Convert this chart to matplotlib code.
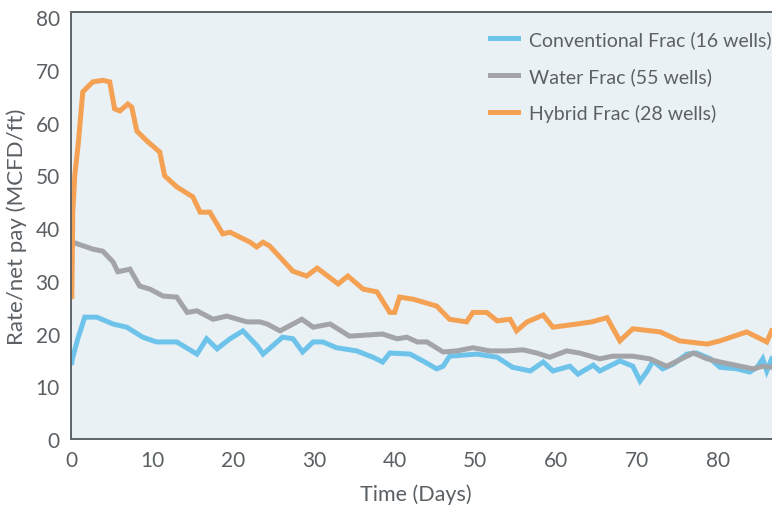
import matplotlib
matplotlib.use("Agg")
import matplotlib.pyplot as plt

# Hybrid Frac (28 wells)
hybrid_days = [0, 0.12, 0.37, 0.8, 1.36, 2.0, 2.6, 3.84, 4.7, 5.3, 5.95, 6.94, 7.43, 8.05, 9.3,
               10.9, 11.5, 13.0, 15.0, 15.9, 17.1, 18.7, 19.6, 22.1, 22.9, 23.7, 24.5, 27.4,
               29.1, 30.4, 33.0, 34.2, 36.1, 37.8, 39.4, 40.0, 40.6, 42.3, 45.2, 46.8, 48.9,
               49.7, 51.4, 52.7, 54.3, 55.1, 56.4, 58.4, 59.6, 62.6, 64.4, 66.3, 67.9, 69.5,
               72.9, 75.3, 78.7, 80.3, 83.6, 86.1, 86.7]
hybrid_rate = [27, 43, 50, 56, 65.8, 66.8, 67.7, 68, 67.7, 62.6, 62.2, 63.5, 62.9, 58.4, 56.5,
               54.4, 49.9, 47.8, 45.9, 43, 43, 38.9, 39.2, 37.3, 36.4, 37.3, 36.6, 31.8,
               30.9, 32.4, 29.4, 30.9, 28.4, 27.9, 24, 24, 26.9, 26.5, 25.2, 22.7, 22.2,
               24, 24, 22.4, 22.7, 20.5, 22.2, 23.5, 21.2, 21.8, 22.2, 23, 18.6, 20.9,
               20.3, 18.6, 18, 18.6, 20.3, 18.4, 20.5]

# Water Frac (55 wells)
water_days = [0, 0.12, 2.6, 3.84, 5.1, 5.7, 7.2, 8.4, 9.7, 11.3, 13.0, 14.3, 15.5, 17.5, 19.2,
              21.7, 23.3, 24.2, 25.8, 28.5, 29.9, 32.0, 34.4, 38.5, 40.3, 41.5, 42.8, 44.0,
              46.0, 47.7, 49.7, 51.8, 53.9, 55.9, 57.6, 59.2, 61.3, 62.9, 65.4, 67.0, 69.5,
              71.6, 73.7, 77.0, 78.7, 80.3, 82.8, 84.4, 85.6, 86.7]
water_rate = [37.5, 37.3, 36.0, 35.6, 33.6, 31.7, 32.2, 29.0, 28.4, 27.1, 26.9, 24.0, 24.3, 22.7,
              23.3, 22.2, 22.2, 21.8, 20.5, 22.7, 21.2, 21.8, 19.5, 19.9, 19.0, 19.3, 18.4,
              18.4, 16.5, 16.7, 17.3, 16.7, 16.7, 16.9, 16.3, 15.5, 16.7, 16.3, 15.2, 15.7,
              15.7, 15.2, 13.8, 16.3, 15.2, 14.6, 13.8, 13.3, 13.8, 13.6]

# Conventional Frac (16 wells)
conv_days = [0, 0.12, 0.74, 1.6, 3.1, 5.1, 6.8, 8.8, 10.5, 13.0, 15.5, 16.7, 18.0, 19.6, 21.2,
             23.0, 23.7, 26.1, 27.4, 28.6, 29.9, 31.1, 32.8, 35.3, 37.3, 38.5, 39.4, 41.9,
             43.5, 45.2, 46.0, 46.8, 50.2, 52.7, 54.6, 56.8, 58.4, 59.6, 61.7, 62.7, 64.6,
             65.4, 67.9, 69.5, 70.4, 71.3, 72.0, 73.2, 74.5, 76.2, 77.4, 79.1, 80.3, 82.4,
             84.0, 84.9, 85.6, 86.1, 86.7]
conv_rate = [14.5, 15.5, 19.0, 23.1, 23.1, 21.8, 21.2, 19.3, 18.4, 18.4, 16.1, 19.0, 17.1, 19.0,
             20.5, 17.6, 16.1, 19.3, 19.0, 16.5, 18.4, 18.4, 17.3, 16.7, 15.5, 14.6, 16.3,
             16.1, 14.8, 13.3, 13.8, 15.7, 16.1, 15.5, 13.6, 12.9, 14.6, 12.9, 13.8, 12.3,
             14.0, 12.9, 14.8, 13.8, 11.0, 12.9, 14.8, 13.3, 14.2, 16.1, 16.3, 15.2, 13.6,
             13.3, 12.7, 13.6, 15.2, 12.9, 15.2]

labels = ["Conventional Frac (16 wells)", "Water Frac (55 wells)", "Hybrid Frac (28 wells)"]
colors = ["#6ec3ea", "#a2a4a8", "#f4a153"]
text_color = "#5b6064"

plt.rcParams['font.family'] = ['Lato', 'DejaVu Sans']

fig = plt.figure(figsize=(7.72, 5.10), dpi=100)
ax = fig.add_axes([71 / 772, 1 - 440 / 510, 1 - 71 / 772 + 0.01, (440 - 13) / 510])
ax.set_facecolor("#e9f1f5")

series = [(conv_days, conv_rate), (water_days, water_rate), (hybrid_days, hybrid_rate)]
for (d, r), lab, c in zip(series, labels, colors):
    ax.plot(d, r, color=c, lw=3.6, label=lab, solid_joinstyle="miter")

ax.set_xlim(-0.1, 86.7 + 1.0)
ax.set_ylim(0, 80.95)
ax.set_xticks(range(0, 90, 10))
ax.set_yticks(range(0, 90, 10))
ax.tick_params(length=0, labelsize=15, labelcolor=text_color, pad=8)
for side in ["left", "bottom", "top", "right"]:
    ax.spines[side].set_color("#5f6468")
    ax.spines[side].set_linewidth(1.4)

ax.set_xlabel("Time (Days)", fontsize=15.5, color=text_color)
ax.xaxis.set_label_coords(0.486, -0.104)
ax.set_ylabel("Rate/net pay (MCFD/ft)", fontsize=16, color=text_color, labelpad=6)

fig.legend(loc="upper left", bbox_to_anchor=(490 / 772, 1 - 31 / 510), frameon=False,
           fontsize=14, labelcolor=text_color, handlelength=1.45, handletextpad=0.55,
           labelspacing=0.98, borderpad=0, borderaxespad=0)

fig.savefig("out.png", dpi=100)
